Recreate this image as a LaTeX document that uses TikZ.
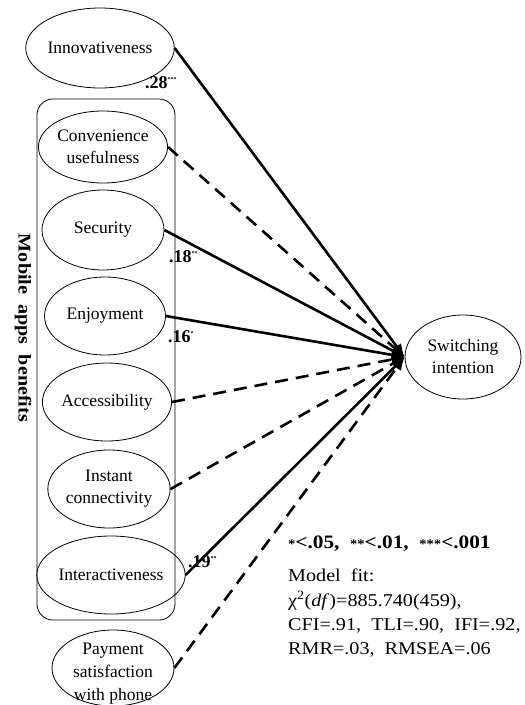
\documentclass[tikz,border=0pt]{standalone}
\usepackage{fontspec}
\setmainfont{Liberation Serif}
\newfontfamily\widefont[FakeStretch=1.12]{Liberation Serif}
\usetikzlibrary{arrows.meta,shapes.geometric}
\newcommand{\sstar}[1]{\raisebox{-0.05em}{\fontsize{13}{13}\selectfont #1}}
\begin{document}
\begin{tikzpicture}[x=1pt,y=-1pt,
  ell/.style={ellipse,draw,line width=0.8pt,inner sep=0pt,minimum width=121pt,minimum height=78pt,align=center,font=\fontsize{17.5}{22}\selectfont},
  sig/.style={line width=2.6pt,-{Latex[length=13pt,width=11pt]}},
  ns/.style={sig,dash pattern=on 13pt off 8pt},
  coef/.style={font=\fontsize{18}{20}\selectfont\bfseries,inner sep=0pt,anchor=base west},
  txt/.style={font=\widefont\fontsize{18}{24.3}\selectfont,inner sep=0pt,align=left,anchor=north west}]
\useasboundingbox (0,0) rectangle (525,705);
\node[draw,line width=0.8pt,rounded corners=16pt,minimum width=138pt,minimum height=521pt,inner sep=0pt] (box) at (106,359.5) {};
\node[ell,minimum width=120pt,minimum height=80pt] (inn) at (100,48) {Innovativeness};
\node[ell,minimum width=122pt,minimum height=72pt] (con) at (103,147) {Convenience\\usefulness};
\node[ell,minimum width=122pt,minimum height=80pt] (sec) at (103,230) {Security};
\node[ell] (enj) at (105,316) {Enjoyment};
\node[ell] (acc) at (107,402) {Accessibility};
\node[ell] (ins) at (109,489) {Instant\\connectivity};
\node[ell] (int) at (111,575) {Interactiveness};
\node[ell,minimum width=122pt,minimum height=76pt] (pay) at (113,668) {};
\node[font=\fontsize{17.5}{23}\selectfont,align=center,inner sep=0pt] (paytxt) at (113,674) {Payment\\satisfaction\\with\ phone};
\node[ell,minimum width=116pt,minimum height=84pt] (sw) at (463,357) {Switching\\intention};
\node[rotate=-90,font=\widefont\fontsize{18}{20}\selectfont\bfseries,inner sep=0pt] (mab) at (23,328) {Mobile\ \ apps\ \ benefits};
\draw[sig] (inn.east) -- (sw.west);
\draw[ns] (con.east) -- (sw.west);
\draw[sig] (sec.east) -- (sw.west);
\draw[sig] (enj.east) -- (sw.west);
\draw[ns] (acc.east) -- (sw.west);
\draw[ns] (ins.east) -- (sw.west);
\draw[sig] (int.east) -- (sw.west);
\draw[ns] (pay.east) -- (sw.west);
\node[coef] (c1) at (145,88) {.28\textsuperscript{\fontsize{6}{6}\selectfont ***}};
\node[coef] (c2) at (169,262) {.18\textsuperscript{\fontsize{6}{6}\selectfont **}};
\node[coef] (c3) at (168,342) {.16\textsuperscript{\fontsize{6}{6}\selectfont *}};
\node[coef] (c4) at (188,567) {.19\textsuperscript{\fontsize{6}{6}\selectfont **}};
\node[coef,font=\widefont\fontsize{19}{20}\selectfont\bfseries] (lvl) at (288,548) {\sstar{*}<.05,\ \ \sstar{**}<.01,\ \ \sstar{***}<.001};
\node[txt] (fit) at (288,569) {Model\ \ fit:\\χ\textsuperscript{2}(\textit{df})=885.740(459),\\CFI=.91,\ \ TLI=.90,\ \ IFI=.92,\\RMR=.03,\ \ RMSEA=.06};
\end{tikzpicture}
\end{document}
